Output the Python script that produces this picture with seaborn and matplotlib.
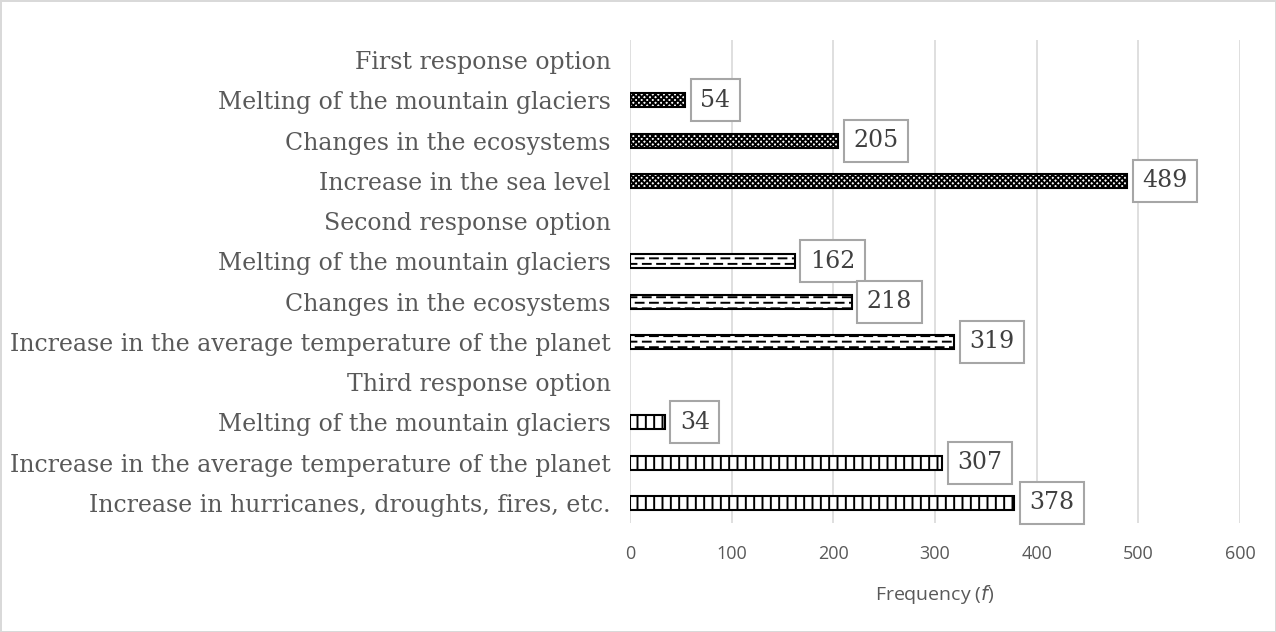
import pandas as pd
import numpy as np
import matplotlib
matplotlib.use('Agg')
import matplotlib.pyplot as plt
import matplotlib.hatch as mhatch
from matplotlib.path import Path
import seaborn as sns

# rows top to bottom (headers have no bar)
labels = [
    'First response option',
    'Melting of the mountain glaciers',
    'Changes in the ecosystems',
    'Increase in the sea level',
    'Second response option',
    'Melting of the mountain glaciers',
    'Changes in the ecosystems',
    'Increase in the average temperature of the planet',
    'Third response option',
    'Melting of the mountain glaciers',
    'Increase in the average temperature of the planet',
    'Increase in hurricanes, droughts, fires, etc.',
]
freq = [np.nan, 54, 205, 489, np.nan, 162, 218, 319, np.nan, 34, 307, 378]
group = ['first'] * 4 + ['second'] * 4 + ['third'] * 4

hatches = {'first': 'xxxxxx', 'second': '---', 'third': '||'}


# dashed horizontal hatch (Excel "dashed horizontal" pattern)
class DashedHorizontalHatch(mhatch.HatchPatternBase):
    ndash = 7

    def __init__(self, hatch, density):
        self.num_lines = int((hatch.count('-') + hatch.count('+')) * density)
        self.num_vertices = self.num_lines * self.ndash * 2

    def set_vertices_and_codes(self, vertices, codes):
        steps, stepsize = np.linspace(0.0, 1.0, self.num_lines, False, retstep=True)
        steps += stepsize / 2.
        period = 1.0 / self.ndash
        i = 0
        for k, y in enumerate(steps):
            off = (k % 2) * period / 2
            for j in range(self.ndash):
                x0 = (j * period + off) % 1.0
                x1 = x0 + period * 0.55
                vertices[i] = (x0, y)
                vertices[i + 1] = (min(x1, 1.0), y)
                codes[i] = Path.MOVETO
                codes[i + 1] = Path.LINETO
                i += 2


mhatch._hatch_types[0] = DashedHorizontalHatch

df = pd.DataFrame({'row': range(len(labels)), 'label': labels, 'freq': freq, 'group': group})
bars = df.dropna(subset=['freq'])

sns.set_style('white')
plt.rcParams['hatch.linewidth'] = 1.4

fig = plt.figure(figsize=(12.76, 6.32), dpi=100)
fig.patch.set_edgecolor('#d9d9d9')
fig.patch.set_linewidth(2)
ax = fig.add_axes([0.4937, 0.1725, 0.4781, 0.7642])

sns.barplot(data=bars, x='freq', y='row', orient='h', order=list(df['row']),
            color='white', edgecolor='black', linewidth=1.5, width=0.35, ax=ax)

for p in ax.patches:
    r = int(round(p.get_y() + p.get_height() / 2))
    p.set_hatch(hatches[df.loc[r, 'group']])

# value boxes
for _, d in bars.iterrows():
    ax.text(d['freq'] + 15, d['row'], f"{int(d['freq'])}", va='center', ha='left',
            family='DejaVu Serif', fontsize=17, color='#404040',
            bbox=dict(boxstyle='square,pad=0.4', fc='white', ec='#a6a6a6', lw=1.5))

ax.set_xlim(0, 600)
ax.set_ylim(len(labels) - 0.5, -0.5)
ax.set_xticks(range(0, 601, 100))
ax.set_yticks(range(len(labels)))
ax.set_yticklabels(labels, family='DejaVu Serif', fontsize=17, color='#595959')
ax.tick_params(axis='y', length=0, pad=14)
ax.tick_params(axis='x', length=0, pad=16, labelsize=13, labelcolor='#595959')
for t in ax.get_xticklabels():
    t.set_family('Open Sans')
ax.xaxis.grid(True, color='#d9d9d9', linewidth=1.2)
ax.set_axisbelow(True)
sns.despine(ax=ax, left=True, bottom=True)
ax.set_ylabel('')
ax.set_xlabel('Frequency ($\\mathit{f}$)', family='Open Sans', fontsize=14, color='#595959', labelpad=14)

fig.savefig('out.png', dpi=100)
